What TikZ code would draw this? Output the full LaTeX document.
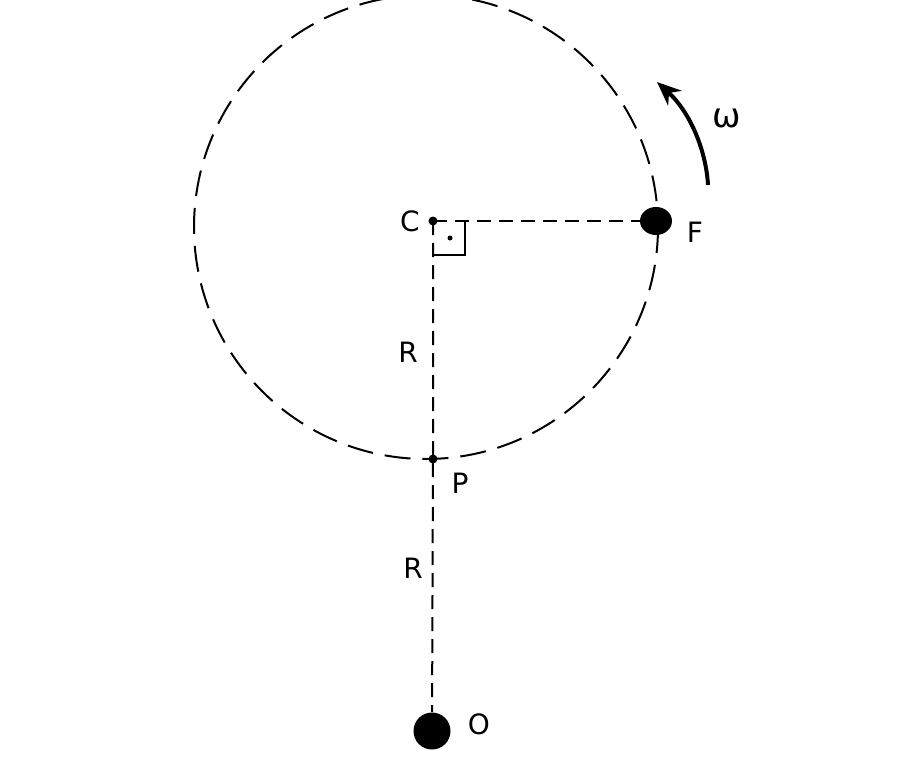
\documentclass[tikz,border=0pt]{standalone}
\usepackage{fontspec}
\setmainfont{DejaVu Sans}
\usetikzlibrary{arrows.meta,shapes.geometric}
\begin{document}
\begin{tikzpicture}[x=0.5pt,y=-0.5pt,
    dot/.style={circle,fill=black,inner sep=0pt,minimum size=#1},
    mass/.style={ellipse,fill=black,inner sep=0pt,minimum width=#1,minimum height=14pt},
    lbl/.style={inner sep=0pt,font=\fontsize{14}{16}\selectfont},
    dline/.style={line width=1pt,dash pattern=on 7pt off 4pt}]
        \useasboundingbox (0,0) rectangle (900,776);
        % path of F
        \draw[line width=1pt,dash pattern=on 13pt off 6pt] (426,227) circle (232);
        \node[dot=4.5pt] (C) at (433,221) {};
        \node[dot=4.5pt] (P) at (433,459) {};
        \node[mass=16pt] (F) at (656,221) {};
        \node[dot=18.5pt] (O) at (432,731) {};
        \draw[dline] (C.center) -- (F);
        \draw[dline] (C.center) -- (P.center) -- (O);
        % right angle
        \draw[line width=1pt] (C.center) ++(32,0) -- ++(0,34) -- ++(-32,0);
        \fill (450,238) circle (2.5);
        % rotation
        \coordinate (w1) at (708,185);
        \coordinate (w2) at (657,82);
        \draw[line width=2pt,-{Stealth[length=12pt,width=10pt]}] (w1) .. controls (706,150) and (690,112) .. (w2);
        \node[lbl] (lC) at (410,221) {C};
        \node[lbl] (lF) at (695,232) {F};
        \node[lbl] (lP) at (460,483) {P};
        \node[lbl] (lO) at (479,724) {O};
        \node[lbl] (lR1) at (408,352) {R};
        \node[lbl] (lR2) at (413,568) {R};
        \node[lbl,font=\fontsize{17}{19}\selectfont] (lw) at (727,118) {ω};
      \end{tikzpicture}
\end{document}
